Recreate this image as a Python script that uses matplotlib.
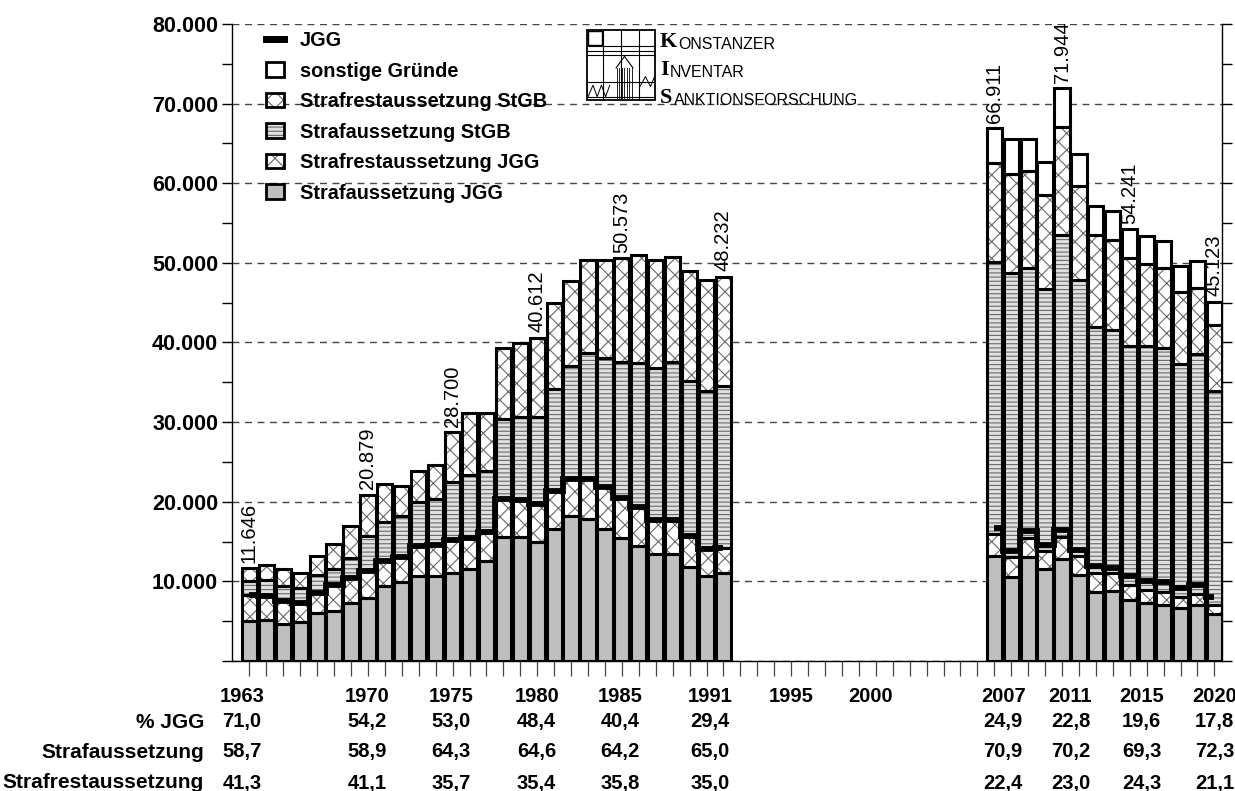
import numpy as np
import matplotlib.pyplot as plt
import matplotlib.transforms as mtransforms
from matplotlib.patches import Patch, Rectangle
from matplotlib.lines import Line2D
from matplotlib.ticker import MultipleLocator, FuncFormatter

plt.rcParams['font.family'] = ['Liberation Sans', 'DejaVu Sans']
plt.rcParams['hatch.color'] = '#6a6a6a'
plt.rcParams['hatch.linewidth'] = 0.8

# ---- data (cases per year) ----
years = list(range(1963, 1992)) + list(range(2007, 2021))

sa_jgg = [5000, 5100, 4700, 4900, 6000, 6300, 7300, 7900, 9400, 9900,
          10700, 10700, 11100, 11600, 12500, 15600, 15600, 15000, 16600, 18200,
          17800, 16600, 15400, 14500, 13500, 13500, 11800, 10700, 11000,
          13200, 10500, 13000, 11500, 12800, 10800, 8700, 8800, 7600, 7300,
          7000, 6700, 7000, 5900]
sra_jgg = [3270, 3100, 2800, 2400, 2600, 3300, 3100, 3400, 3100, 3100,
           3800, 3900, 4100, 3900, 3700, 4700, 4600, 4660, 4700, 4700,
           5000, 5300, 5030, 4800, 4200, 4200, 3900, 3400, 3180,
           2700, 2500, 2500, 2300, 2800, 2400, 2400, 2300, 2000, 1600,
           1700, 1400, 1400, 1100]
sa_stgb = [1780, 2000, 1900, 1900, 2200, 1900, 2500, 4400, 5000, 5200,
           5500, 5700, 7300, 7900, 7700, 10100, 10500, 11040, 12900, 14100,
           15900, 16200, 17070, 18100, 19100, 19800, 19500, 19800, 20320,
           34150, 35700, 33900, 32900, 37900, 34700, 30900, 30500, 30000, 30600,
           30600, 29200, 30100, 26900]
sra_stgb = [1596, 1900, 2100, 1900, 2400, 3200, 4100, 5179, 4700, 3800,
            3900, 4300, 6200, 7700, 7300, 8900, 9250, 9912, 10700, 10700,
            11700, 12200, 13073, 13600, 13600, 13300, 13800, 14000, 13732,
            12450, 12500, 12100, 11800, 13600, 11700, 11500, 11300, 11000, 10400,
            10100, 9000, 8400, 8300]
sonstige = [0] * 29 + [4411, 4400, 4100, 4200, 4844, 4100, 3700, 3600, 3641, 3500,
                       3300, 3300, 3300, 2923]
jgg = [8270, 8200, 7500, 7300, 8600, 9600, 10400, 11300, 12500, 13000,
       14500, 14600, 15200, 15500, 16200, 20300, 20200, 19660, 21300, 22900,
       22800, 21900, 20430, 19300, 17700, 17700, 15700, 14100, 14180,
       16660, 13800, 16300, 14600, 16400, 14000, 11900, 11700, 10630, 10000,
       9900, 9200, 9600, 8030]

labelled_years = [1963, 1970, 1975, 1980, 1985, 1991, 2007, 2011, 2015, 2020]
axis_years = [1963, 1970, 1975, 1980, 1985, 1991, 1995, 2000, 2007, 2011, 2015, 2020]
pct_jgg = ['71,0', '54,2', '53,0', '48,4', '40,4', '29,4', '24,9', '22,8', '19,6', '17,8']
pct_sa = ['58,7', '58,9', '64,3', '64,6', '64,2', '65,0', '70,9', '70,2', '69,3', '72,3']
pct_sra = ['41,3', '41,1', '35,7', '35,4', '35,8', '35,0', '22,4', '23,0', '24,3', '21,1']

# where the bottom labels start (left edge, in year units)
label_shift = {1963: -1.75, 1970: -1.35, 1975: -1.4, 1980: -1.35, 1985: -1.4,
               1991: -2.1, 1995: -1.3, 2000: -1.65, 2007: -0.8, 2011: -0.8,
               2015: -0.6, 2020: -1.3}

W, H = 1235, 791
fig = plt.figure(figsize=(W / 100, H / 100), dpi=100)
ax = fig.add_axes([232 / W, 130 / H, 990 / W, 637 / H])
ax.set_xlim(1961.97, 2020.45)
ax.set_ylim(0, 80000)

x = np.array(years)
bottom = np.zeros(len(years))
layers = [(sa_jgg, '#bfbfbf', None),
          (sra_jgg, 'white', 'xx'),
          (sa_stgb, '#e0e0e0', '----'),
          (sra_stgb, 'white', 'xx'),
          (sonstige, 'white', None)]
for vals, fc, hatch in layers:
    v = np.array(vals, dtype=float)
    m = v > 0
    ax.bar(x[m], v[m], bottom=bottom[m], width=0.9, color=fc, hatch=hatch,
           linewidth=0, zorder=2)
    ax.bar(x[m], v[m], bottom=bottom[m], width=0.9, fill=False,
           edgecolor='black', linewidth=2.2, zorder=3)
    bottom += v

# JGG step line, one piece per period
jgg_arr = np.array(jgg)
for lo, hi in [(1963, 1991), (2007, 2020)]:
    m = (x >= lo) & (x <= hi)
    ax.plot(x[m], jgg_arr[m], drawstyle='steps-mid', color='black', lw=4.2,
            solid_joinstyle='miter', solid_capstyle='butt', zorder=4)

# totals above selected bars
for yr in labelled_years:
    tot = int(bottom[years.index(yr)])
    ax.text(yr, tot + 700, f"{tot:,}".replace(',', '.'), rotation=90,
            ha='center', va='bottom', fontsize=14.5)

# axes styling
ax.yaxis.set_major_locator(MultipleLocator(10000))
ax.yaxis.set_minor_locator(MultipleLocator(5000))
ax.yaxis.set_major_formatter(FuncFormatter(
    lambda v, p: f"{int(v):,}".replace(',', '.') if v > 0 else ''))
ax.tick_params(axis='y', which='both', direction='out', length=7, width=1,
               right=True, labelright=False, labelsize=15.5, pad=3)
for lab in ax.get_yticklabels():
    lab.set_fontweight('bold')
ax.set_xticks(range(1963, 2021))
ax.set_xticklabels([])
ax.tick_params(axis='x', direction='out', length=11, width=0.9, color='#444444')
ax.yaxis.grid(True, which='major', linestyle=(0, (5, 4)), color='#444444', lw=1)
ax.set_axisbelow(True)
ax.spines['top'].set_visible(False)
for s in ['left', 'right', 'bottom']:
    ax.spines[s].set_linewidth(1)

# bottom table
tr = mtransforms.blended_transform_factory(ax.transData, fig.transFigure)
for yr in axis_years:
    ax.text(yr + label_shift[yr], 1 - 697 / H, str(yr), transform=tr,
            ha='left', va='center', fontsize=14.5, fontweight='bold')
rows = [('% JGG', pct_jgg, 722), ('Strafaussetzung', pct_sa, 752),
        ('Strafrestaussetzung', pct_sra, 783)]
for name, vals, py in rows:
    fig.text(204 / W, 1 - py / H, name, ha='right', va='center',
             fontsize=15, fontweight='bold')
    for yr, val in zip(labelled_years, vals):
        ax.text(yr + label_shift[yr] + 0.15, 1 - py / H, val, transform=tr,
                ha='left', va='center', fontsize=14.5, fontweight='bold')

# legend
def box(fc, hatch):
    return (Patch(facecolor=fc, hatch=hatch, linewidth=0),
            Patch(fill=False, edgecolor='black', linewidth=2))

handles = [Line2D([], [], color='black', lw=5),
           box('white', None),
           box('white', 'xx'),
           box('#e0e0e0', '----'),
           box('white', 'xx'),
           box('#bfbfbf', None)]
names = ['JGG', 'sonstige Gründe', 'Strafrestaussetzung StGB',
         'Strafaussetzung StGB', 'Strafrestaussetzung JGG', 'Strafaussetzung JGG']
leg = ax.legend(handles, names, loc='upper left',
                bbox_to_anchor=(266 / W, 1 - 31 / H), bbox_transform=fig.transFigure,
                frameon=False, borderpad=0, borderaxespad=0, fontsize=14.3,
                handlelength=0.9, handleheight=0.75, handletextpad=0.8,
                labelspacing=0.58)
for t in leg.get_texts():
    t.set_fontweight('bold')

# Konstanzer Inventar logo
lax = fig.add_axes([586 / W, 1 - 101 / H, 70 / W, 72 / H])
lax.set_xlim(0, 10)
lax.set_ylim(0, 10)
lax.axis('off')
lax.add_patch(Rectangle((0.1, 0.1), 9.8, 9.8, fill=False, lw=1.3))
for xv in (2.4, 5.0, 7.6):
    lax.plot([xv, xv], [0.1, 9.9], color='black', lw=0.8)
for yv in (2.6, 6.4, 7.0, 7.6):
    lax.plot([0.1, 9.9], [yv, yv], color='black', lw=0.8)
lax.add_patch(Rectangle((0.3, 7.8), 2.0, 1.9, fill=False, lw=1.0))
for xv in np.arange(4.4, 6.6, 0.35):
    lax.plot([xv, xv], [0.4, 4.6], color='black', lw=0.6)
lax.plot([4.3, 5.5, 6.7], [4.6, 6.2, 4.6], color='black', lw=0.8)
lax.plot([0.3, 1.0, 1.6, 2.2, 2.8, 3.4], [0.6, 2.2, 0.6, 2.2, 0.6, 2.2], color='black', lw=0.7)
lax.plot([7.7, 8.5, 9.2, 9.8], [2.0, 3.4, 2.0, 3.4], color='black', lw=0.7)
lax.plot([0.1, 9.9], [0.6, 0.6], color='black', lw=0.8)

for word, py in [('KONSTANZER', 47), ('INVENTAR', 75), ('SANKTIONSFORSCHUNG', 103)]:
    first = fig.text(660 / W, 1 - py / H, word[0], ha='left', va='baseline',
                     fontsize=16, fontweight='bold', family='Liberation Serif')
    ax.annotate(word[1:], xy=(1, 0), xycoords=first, xytext=(1, 0),
                textcoords='offset points', ha='left', va='bottom',
                fontsize=11.5, annotation_clip=False)

fig.savefig('out.png', dpi=100)
